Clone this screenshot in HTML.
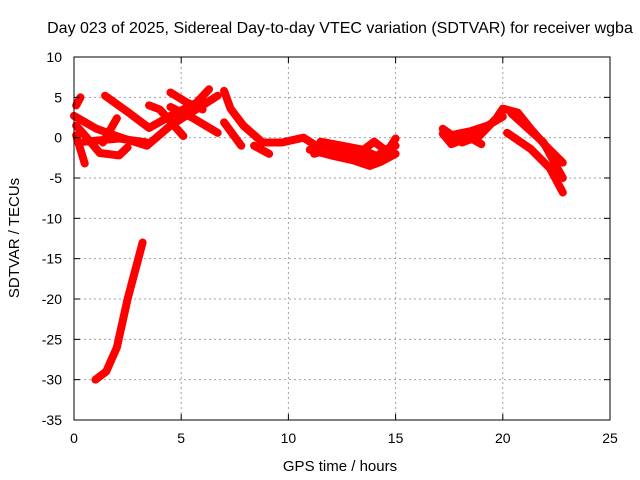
<!DOCTYPE html>
<html><head><meta charset="utf-8"><style>
body{margin:0;background:#fff;}
svg{display:block;font-family:"Liberation Sans",sans-serif;}
</style></head><body>
<svg id="chart" width="640" height="480">
<rect width="640" height="480" fill="#fff"/>
<g id="grid"></g>
<g id="series"></g>
<rect x="74" y="57" width="536" height="363" fill="none" stroke="#000" stroke-width="1"/>
<g id="ticks"></g>
<text x="340" y="33" font-size="16" text-anchor="middle">Day 023 of 2025, Sidereal Day-to-day VTEC variation (SDTVAR) for receiver wgba</text>
<text x="340" y="471" font-size="15" text-anchor="middle">GPS time / hours</text>
<text transform="translate(19,238) rotate(-90)" font-size="15" text-anchor="middle">SDTVAR / TECUs</text>
</svg>
<script>
const xTicks=[0,5,10,15,20,25];
const yTicks=[10,5,0,-5,-10,-15,-20,-25,-30,-35];
const trackA=[[1.45,5.2],[2.5,3.2],[3.5,1.2],[4.5,2.7],[5.7,4.3],[6.3,6]];
const trackB=[[0,2.7],[1.05,1.1],[2.2,0],[3.4,-1],[4.5,1.5],[6,4],[6.7,5.2]];
const trackC=[[0.1,1.5],[0.6,0],[1.2,-1.9],[2.1,-2.2],[2.5,-1.2]];
const trackC2=[[1.35,-0.6],[2,2.4]];
const trackD=[[0.1,0.3],[0.5,-3.2]];
const trackE=[[0.5,-0.5],[2.1,-0.1],[3.4,-0.6]];
const trackF=[[3.5,4],[4,3.5],[5.1,0.2]];
const trackF2=[[4.5,3.8],[5.5,2.5],[6.7,0.6]];
const trackG=[[4.5,5.6],[5.3,4.3],[6,3.5]];
const trackH=[[7,5.8],[7.3,3.6],[7.9,1.5],[8.8,-0.6],[9.7,-0.6],[10.7,0],[11.3,-1],[12.3,-1.9],[13.2,-2.6],[13.8,-1.9],[14.4,-2.6],[15,-0.1]];
const trackI=[[7,1.9],[7.8,-1]];
const trackI2=[[8.4,-1],[9.1,-2]];
const trackJ=[[11,-1.5],[12,-2.2],[13,-2.8],[13.8,-3.5],[14.3,-3],[15,-2]];
const trackJ2=[[11.5,-0.5],[12.5,-1],[13.5,-1.5],[14,-0.5],[14.5,-1.5],[15,-1]];
const trackJ3=[[11.2,-2],[12.3,-1.2],[13.3,-2],[13.8,-2.8],[14.4,-1.8]];
const trackL=[[0.1,4],[0.3,5]];
const trackS=[[1,-30],[1.5,-29],[2,-26],[2.5,-20],[3,-15],[3.2,-13]];
const trackR0=[[17.2,0.5],[17.6,-0.8],[18.1,-0.3],[18.6,-0.2],[19,-0.8]];
const trackR1=[[17.2,1.1],[18.1,-0.6],[18.9,0.2],[19.7,2.4],[20,3.6],[20.7,3.1],[21.3,1.1],[22,-1],[22.8,-3.1]];
const trackR2=[[20.2,0.6],[21.3,-1.4],[22.2,-3.8],[22.8,-6.8]];
const trackR3=[[20.4,3],[21.9,-0.6],[22.8,-5]];
const trackR4=[[17.4,0.2],[18.5,0.8],[19.3,1.5],[20,2.6]];
const tracks=[trackA,trackB,trackC,trackC2,trackD,trackE,trackF,trackF2,trackG,trackH,trackI,trackI2,trackJ,trackJ2,trackJ3,trackL,trackS,trackR0,trackR1,trackR2,trackR3,trackR4];
const X=v=>74+v*536/25;
const Y=v=>57+(10-v)*363/45;
const NS="http://www.w3.org/2000/svg";
const grid=document.getElementById('grid'),ticks=document.getElementById('ticks'),ser=document.getElementById('series');
function mk(tag,attrs,parent){const e=document.createElementNS(NS,tag);for(const k in attrs)e.setAttribute(k,attrs[k]);parent.appendChild(e);return e;}
xTicks.forEach(t=>{
 const x=X(t);
 if(t>0&&t<25){const g=mk('line',{x1:x,x2:x,y1:57,y2:420,stroke:'#a0a0a0','stroke-dasharray':'2,3'},grid);
 }
 const a=mk('line',{x1:x,x2:x,y1:420,y2:414,stroke:'#000'},ticks);
 
 const b=mk('line',{x1:x,x2:x,y1:57,y2:63,stroke:'#000'},ticks);
 
 const l=mk('text',{x:x,y:443,'font-size':14,'text-anchor':'middle'},ticks);l.textContent=t;
 
});
yTicks.forEach(t=>{
 const y=Y(t);
 if(t<10&&t>-35){const g=mk('line',{x1:74,x2:610,y1:y,y2:y,stroke:'#a0a0a0','stroke-dasharray':'2,3'},grid);
 }
 const a=mk('line',{x1:74,x2:80,y1:y,y2:y,stroke:'#000'},ticks);
 
 const b=mk('line',{x1:604,x2:610,y1:y,y2:y,stroke:'#000'},ticks);
 
 const l=mk('text',{x:62,y:y+5,'font-size':14,'text-anchor':'end'},ticks);l.textContent=t;
 
});
tracks.forEach(tr=>{
 const p=mk('polyline',{points:tr.map(d=>X(d[0])+','+Y(d[1])).join(' '),fill:'none',stroke:'#ff0000','stroke-width':8,'stroke-linejoin':'round','stroke-linecap':'round'},ser);
 
 
});
</script>
</body></html>
